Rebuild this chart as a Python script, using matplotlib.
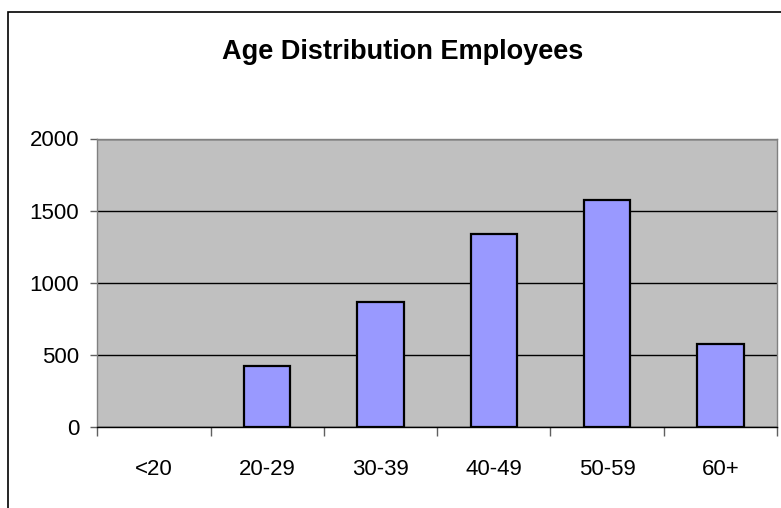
import matplotlib
matplotlib.use("Agg")
import matplotlib.pyplot as plt
from matplotlib.patches import Rectangle

# data
age_groups = ["<20", "20-29", "30-39", "40-49", "50-59", "60+"]
employees = [0, 424, 868, 1336, 1576, 577]
y_ticks = [0, 500, 1000, 1500, 2000]

plt.rcParams['font.family'] = ['Liberation Sans', 'DejaVu Sans']

fig = plt.figure(figsize=(7.81, 5.08), dpi=100)
ax = fig.add_axes([97.3 / 781, 1 - 427.3 / 508, (777 - 97.3) / 781, (427.3 - 138.5) / 508])

# outer chart border (right and bottom run off the picture)
fig.patches.append(Rectangle((8 / 781, -0.05), 1.1, 1 - 11.7 / 508 + 0.05,
                             transform=fig.transFigure, fill=False,
                             edgecolor='black', linewidth=1.2))

ax.set_facecolor('#C0C0C0')
x = list(range(len(age_groups)))
# a zero-height bar leaves no outline in the original
bx = [i for i, v in zip(x, employees) if v > 0]
bv = [v for v in employees if v > 0]
ax.bar(bx, bv, width=0.41, color='#9999FF', edgecolor='black',
       linewidth=1.6, zorder=3)

ax.set_xlim(-0.5, len(age_groups) - 0.5)
ax.set_ylim(0, 2000)
ax.set_yticks(y_ticks)
ax.set_yticklabels([str(v) for v in y_ticks], fontsize=16)
ax.yaxis.grid(True, color='black', linewidth=1.0, zorder=1)
ax.set_axisbelow(True)

# ticks at category boundaries, labels at category centres
ax.set_xticks([i - 0.5 for i in range(len(age_groups) + 1)])
ax.set_xticklabels([])
ax.set_xticks(x, minor=True)
ax.set_xticklabels(age_groups, minor=True, fontsize=16)
ax.tick_params(axis='x', which='major', length=6.5, width=1.0, color='#606060', direction='out')
ax.tick_params(axis='x', which='minor', length=0, pad=23)
ax.tick_params(axis='y', length=5, width=1.0, color='#606060', pad=8)

for side in ['top', 'right', 'left']:
    ax.spines[side].set_color('#808080')
    ax.spines[side].set_linewidth(1.0)
ax.spines['bottom'].set_color('black')
ax.spines['bottom'].set_linewidth(1.0)

fig.text(403 / 781, 1 - 52 / 508, "Age Distribution Employees", ha='center', va='center',
         fontsize=19.5, fontweight='bold')

fig.savefig("out.png", dpi=100)
